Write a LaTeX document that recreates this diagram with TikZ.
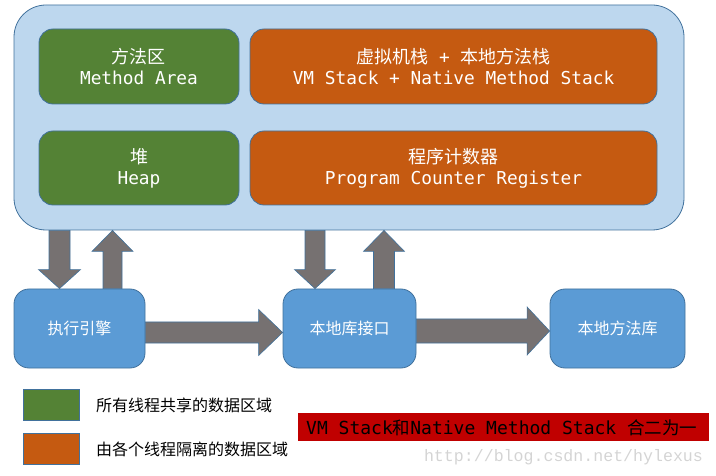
\documentclass[tikz,border=0pt]{standalone}
\usepackage{fontspec}
\newfontfamily\cjk{Noto Sans CJK SC}
\newfontfamily\mono{DejaVu Sans Mono}
\newfontfamily\wmono{Liberation Mono}
\usetikzlibrary{calc}
\definecolor{outerfill}{HTML}{BDD7EE}
\definecolor{edgeblue}{HTML}{41719C}
\definecolor{sharedgreen}{HTML}{548235}
\definecolor{privateorange}{HTML}{C55A11}
\definecolor{unitblue}{HTML}{5B9BD5}
\definecolor{arrowgray}{HTML}{767171}
\definecolor{notered}{HTML}{C00000}
\definecolor{wmgray}{HTML}{D4D4D4}
\tikzset{
  region/.style={draw=edgeblue, line width=0.8pt, rounded corners=14pt, text=white,
    align=center, inner sep=0pt, font=\fontsize{18}{21}\selectfont},
  shared/.style={region, fill=sharedgreen},
  private/.style={region, fill=privateorange},
  unitbox/.style={region, fill=unitblue, rounded corners=15pt,
    font=\cjk\fontsize{16}{19}\selectfont},
  blk/.style={fill=arrowgray, draw=edgeblue, line width=0.6pt},
  swatch/.style={draw=edgeblue, line width=0.8pt, minimum width=56pt, minimum height=31pt, inner sep=0pt},
  legendtext/.style={anchor=west, inner sep=0pt, font=\cjk\fontsize{16}{19}\selectfont},
}
\newcommand\cn[1]{{\cjk\fontsize{18}{21}\selectfont #1}}
\newcommand\en[1]{{\mono\fontsize{17.8}{21}\selectfont #1}}
% block arrow from #1 to #2: half shaft #3, half head #4, head length #5
\newcommand\blockarrow[5]{%
  \draw[blk] let \p1=(#1), \p2=(#2),
      \n1={atan2(\y2-\y1,\x2-\x1)}, \n2={veclen(\x2-\x1,\y2-\y1)} in
    [shift={(\p1)}, rotate=\n1]
    (0,-#3) -- ({\n2-#5},-#3) -- ({\n2-#5},-#4) -- ({\n2},0)
    -- ({\n2-#5},#4) -- ({\n2-#5},#3) -- (0,#3) -- cycle;}
\begin{document}
\begin{tikzpicture}[x=1pt,y=-1pt]
\useasboundingbox (0,0) rectangle (716,476);

% runtime data area
\node[draw=edgeblue, fill=outerfill, line width=0.8pt, rounded corners=32pt,
  minimum width=670pt, minimum height=225pt, inner sep=0pt] (outer) at (349,117.5) {};
\node[shared, minimum width=200pt, minimum height=75pt] (ma) at (139,66.5)
  {\cn{方法区}\\\en{Method Area}};
\node[private, minimum width=407pt, minimum height=75pt] (vm) at (453.5,66.5)
  {\cn{虚拟机栈}\en{ + }\cn{本地方法栈}\\\en{VM Stack + Native Method Stack}};
\node[shared, minimum width=200pt, minimum height=74pt] (heap) at (139,168)
  {\cn{堆}\\\en{Heap}};
\node[private, minimum width=407pt, minimum height=74pt] (pcr) at (453.5,168)
  {\cn{程序计数器}\\\en{Program Counter Register}};

% execution units
\node[unitbox, minimum width=131pt, minimum height=79pt] (ee) at (79.5,328.5) {执行引擎};
\node[unitbox, minimum width=133pt, minimum height=79pt] (jni) at (349.5,328.5) {本地库接口};
\node[unitbox, minimum width=135pt, minimum height=79pt] (lib) at (617.5,328.5) {本地方法库};

% block arrows
\coordinate (c1) at (59.5,0);
\coordinate (c2) at (112.5,0);
\coordinate (c3) at (315,0);
\coordinate (c4) at (384,0);
\coordinate (r1) at (0,332.5);
\coordinate (r2) at (0,331);
\blockarrow{outer.south -| c1}{ee.north -| c1}{10.5}{21}{19}
\blockarrow{ee.north -| c2}{outer.south -| c2}{9.5}{20.5}{21}
\blockarrow{outer.south -| c3}{jni.north -| c3}{10}{20.5}{19}
\blockarrow{jni.north -| c4}{outer.south -| c4}{10.5}{20.5}{21}
\blockarrow{ee.east |- r1}{jni.west |- r1}{10.5}{23}{24}
\blockarrow{jni.east |- r2}{lib.west |- r2}{12}{24}{22.5}

% legend
\node[swatch, fill=sharedgreen] (lg) at (51,404.5) {};
\node[swatch, fill=privateorange] (lo) at (51,448.5) {};
\node[legendtext] (lgt) at (96,405) {所有线程共享的数据区域};
\node[legendtext] (lot) at (96,449) {由各个线程隔离的数据区域};

% note
\node[fill=notered, minimum width=411pt, minimum height=28pt, inner sep=0pt] (note) at (503.5,427) {};
\node[anchor=west, inner sep=0pt, text=black] (notetext) at (306,427.5)
  {{\mono\fontsize{18}{20}\selectfont VM Stack}{\cjk\fontsize{17.5}{20}\selectfont 和}{\mono\fontsize{18}{20}\selectfont Native Method Stack }{\cjk\fontsize{17.5}{20}\selectfont 合二为一}};

% watermark
\node[inner sep=0pt, text=wmgray, font=\wmono\fontsize{16.6}{18}\selectfont] (wm) at (563.5,457)
  {http://blog.csdn.net/hylexus};
\end{tikzpicture}
\end{document}
